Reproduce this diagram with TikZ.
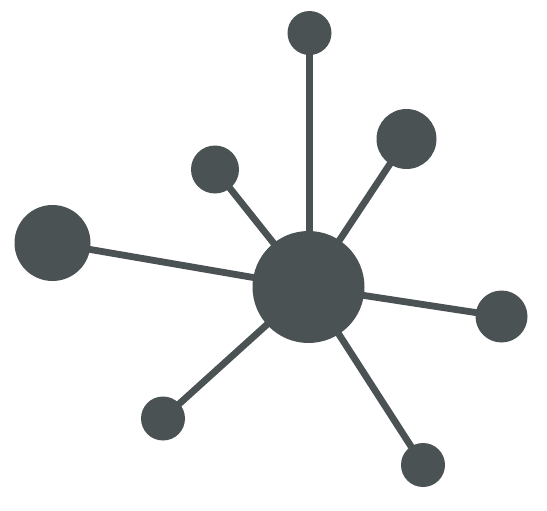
\documentclass[tikz,border=0pt]{standalone}
\usetikzlibrary{backgrounds}
\definecolor{slate}{RGB}{74,82,84}
\tikzset{
  dot/.style={circle,fill=slate,inner sep=0pt,minimum size=#1},
  link/.style={draw=slate,line width=6.8pt}
}
\begin{document}
\begin{tikzpicture}[x=1pt,y=-1pt]
    % set bounding box
    \useasboundingbox (0,0) rectangle (547,511);
    % set nodes
    \node [dot=112pt] (hub) at (308.5,287) {};
    \node [dot=44pt] (top) at (309.5,33) {};
    \node [dot=60pt] (ur) at (406.5,139) {};
    \node [dot=48pt] (ul) at (215,169.5) {};
    \node [dot=76pt] (left) at (52.5,243) {};
    \node [dot=52pt] (right) at (501.5,316.5) {};
    \node [dot=44pt] (ll) at (163,418.5) {};
    \node [dot=44pt] (lr) at (423,465) {};
    % draw links
    \begin{scope}[on background layer]
    \draw [link] (top.center) -- (top.center |- hub.center);
    \draw [link] (hub.center) -- (ur.center);
    \draw [link] (hub.center) -- (ul.center);
    \draw [link] (hub.center) -- (left.center);
    \draw [link] (hub.center) -- (right.center);
    \draw [link] (hub.center) -- (ll.center);
    \draw [link] (hub.center) -- (lr.center);
    \end{scope}
\end{tikzpicture}
\end{document}
